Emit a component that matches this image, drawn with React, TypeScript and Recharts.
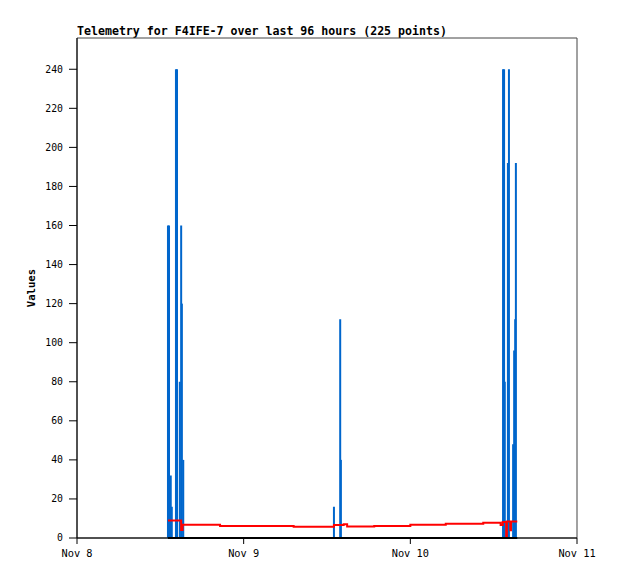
import React from 'react'
import { ComposedChart, Line, XAxis, YAxis, ReferenceLine, ReferenceArea, Label } from 'recharts'

// hours since Nov 8 00:00
const xTicks = [0, 24, 48, 72]
const xTickLabels = ['Nov 8', 'Nov 9', 'Nov 10', 'Nov 11']
const yTicks = [0, 20, 40, 60, 80, 100, 120, 140, 160, 180, 200, 220, 240]

// blue impulses
const spikeHours = [13.1, 13.25, 13.5, 13.65, 14.25, 14.4, 14.8, 15.0, 15.1, 15.3,
  37.0, 37.9, 38.0,
  61.35, 61.5, 61.6, 62.05, 62.2, 62.8, 62.95, 63.1, 63.2]
const spikeValues = [160, 160, 32, 16, 240, 240, 80, 160, 120, 40,
  16, 112, 40,
  240, 240, 80, 192, 240, 48, 96, 112, 192]

// red series (step after)
const redHours = [13.1, 15.0, 15.2, 20.6, 31.2, 37.0, 38.4, 38.9, 42.8, 48.0, 53.1, 58.5, 61.0, 61.3, 61.8, 61.9, 62.4, 62.5, 63.4]
const redValues = [8.9, 4.1, 6.8, 6.2, 5.7, 6.7, 7.0, 5.9, 6.2, 6.8, 7.3, 7.8, 6.6, 8.2, 0.8, 8.5, 4.0, 8.5, 8.5]

// black series at zero
const zeroHours = [13.1, 63.4]
const zeroValues = [0, 0]

const redData = redHours.map((h, i) => ({ h, v: redValues[i] }))
const zeroData = zeroHours.map((h, i) => ({ h, v: zeroValues[i] }))

const font = '"DejaVu Sans Mono", monospace'

export default function App() {
  return (
    <div style={{ position: 'relative', width: 600, height: 565 }}>
      <div style={{ position: 'absolute', left: 69, top: 17, fontFamily: font, fontWeight: 'bold', fontSize: 11.6, lineHeight: '12px', color: '#000', whiteSpace: 'nowrap' }}>
        Telemetry for F4IFE-7 over last 96 hours (225 points)
      </div>
      <ComposedChart width={600} height={565} margin={{ top: 30, right: 31, left: 0, bottom: 0 }}>
        <XAxis
          type="number"
          dataKey="h"
          domain={[0, 72]}
          ticks={xTicks}
          tickFormatter={(v: number) => xTickLabels[xTicks.indexOf(v)]}
          height={35}
          stroke="#000"
          tickSize={6}
          tickMargin={6}
          tick={{ fill: '#000', fontFamily: font, fontSize: 10.3 }}
          allowDuplicatedCategory={false}
        />
        <YAxis
          type="number"
          domain={[0, 256]}
          ticks={yTicks}
          width={69}
          stroke="#000"
          tickSize={8}
          tickMargin={6}
          tick={{ fill: '#000', fontFamily: font, fontSize: 9.8 }}
        >
          <Label
            content={({ viewBox }: any) => {
              const cx = 23
              const cy = viewBox.y + viewBox.height / 2
              return (
                <text x={cx} y={cy} transform={`rotate(-90 ${cx} ${cy})`} textAnchor="middle" dominantBaseline="central"
                  style={{ fontFamily: font, fontWeight: 'bold', fontSize: 10.6, fill: '#000' }}>
                  Values
                </text>
              )
            }}
          />
        </YAxis>
        <ReferenceArea x1={0} x2={72} y1={0} y2={256} fill="none" stroke="#444" strokeWidth={1} />
        {spikeHours.map((h, i) => (
          <ReferenceLine key={i} segment={[{ x: h, y: 0 }, { x: h, y: spikeValues[i] }]} stroke="#0066CC" strokeWidth={2} />
        ))}
        <Line data={redData} dataKey="v" type="stepAfter" stroke="#FF0000" strokeWidth={2} dot={false} isAnimationActive={false} />
        <Line data={zeroData} dataKey="v" type="linear" stroke="#000" strokeWidth={2} dot={false} isAnimationActive={false} />
      </ComposedChart>
    </div>
  )
}
